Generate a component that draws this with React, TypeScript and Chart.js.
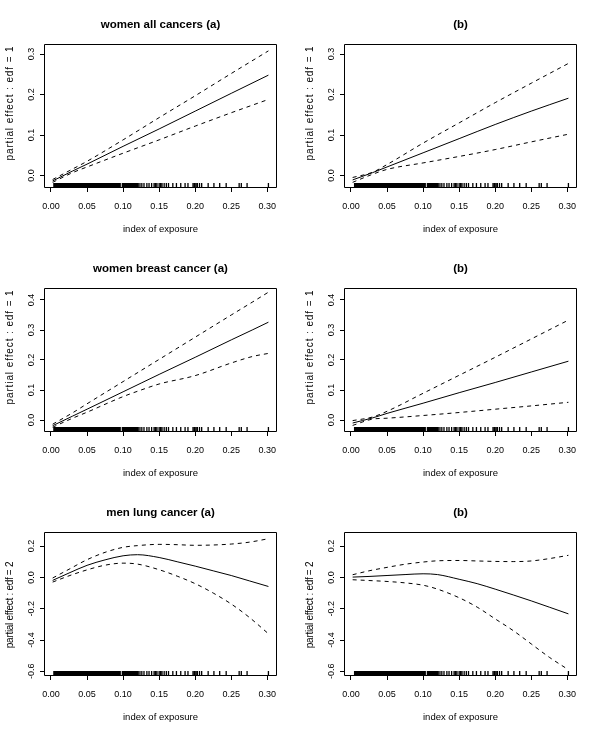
import React, { useEffect, useRef } from "react";
import { Chart, registerables } from "chart.js";

Chart.register(...registerables);

const FONT = "'Liberation Sans', Arial, Helvetica, sans-serif";

// ---- tick labels ----
const xTicks = [0, 0.05, 0.1, 0.15, 0.2, 0.25, 0.3];
const yTicksRow1 = [0, 0.1, 0.2, 0.3];
const yTicksRow2 = [0, 0.1, 0.2, 0.3, 0.4];
const yTicksRow3 = [-0.6, -0.4, -0.2, 0, 0.2];

// ---- panel titles ----
const titles = ["women all cancers (a)", "(b)", "women breast cancer (a)", "(b)", "men lung cancer (a)", "(b)"];
const yTitles = [
  "partial effect : edf = 1",
  "partial effect : edf = 1",
  "partial effect : edf = 1",
  "partial effect : edf = 1",
  "partial effect : edf = 2",
  "partial effect : edf = 2",
];
const xTitle = "index of exposure";

// ---- women all cancers (a) ----
const x1 = [0.0023, 0.03, 0.05, 0.1, 0.15, 0.2, 0.25, 0.3016];
const fit1 = [-0.0135, 0.011, 0.028, 0.072, 0.115, 0.159, 0.203, 0.248];
const up1 = [-0.01, 0.016, 0.035, 0.088, 0.143, 0.197, 0.252, 0.308];
const lo1 = [-0.017, 0.007, 0.021, 0.055, 0.088, 0.122, 0.155, 0.188];

// ---- women all cancers (b) ----
const x2 = [0.0023, 0.03, 0.05, 0.1, 0.15, 0.2, 0.25, 0.3016];
const fit2 = [-0.011, 0.007, 0.021, 0.056, 0.091, 0.126, 0.159, 0.191];
const up2 = [-0.005, 0.008, 0.027, 0.08, 0.13, 0.18, 0.228, 0.277];
const lo2 = [-0.017, 0.003, 0.015, 0.031, 0.047, 0.064, 0.083, 0.102];

// ---- women breast cancer (a) ----
const x3 = [0.0023, 0.03, 0.05, 0.1, 0.125, 0.15, 0.2, 0.25, 0.28, 0.3016];
const fit3 = [-0.019, 0.013, 0.036, 0.094, 0.123, 0.152, 0.209, 0.267, 0.301, 0.326];
const up3 = [-0.014, 0.024, 0.054, 0.128, 0.165, 0.202, 0.276, 0.35, 0.394, 0.426];
const lo3 = [-0.024, 0.006, 0.026, 0.078, 0.1, 0.12, 0.148, 0.19, 0.212, 0.222];

// ---- women breast cancer (b) ----
const x4 = [0.0023, 0.03, 0.05, 0.1, 0.15, 0.2, 0.25, 0.3016];
const fit4 = [-0.01, 0.007, 0.022, 0.056, 0.091, 0.125, 0.16, 0.196];
const up4 = [-0.002, 0.01, 0.029, 0.089, 0.149, 0.209, 0.27, 0.333];
const lo4 = [-0.018, 0.003, 0.006, 0.015, 0.025, 0.036, 0.047, 0.059];

// ---- men lung cancer (a) ----
const x5 = [0.0023, 0.025, 0.05, 0.075, 0.1, 0.12, 0.15, 0.175, 0.2, 0.225, 0.25, 0.275, 0.3016];
const fit5 = [-0.019, 0.028, 0.077, 0.112, 0.138, 0.145, 0.127, 0.1, 0.072, 0.042, 0.012, -0.022, -0.058];
const up5 = [-0.004, 0.052, 0.113, 0.16, 0.192, 0.203, 0.211, 0.209, 0.205, 0.207, 0.213, 0.225, 0.247];
const lo5 = [-0.03, 0.01, 0.048, 0.078, 0.091, 0.085, 0.049, 0.008, -0.04, -0.1, -0.17, -0.255, -0.36];

// ---- men lung cancer (b) ----
const x6 = [0.0023, 0.025, 0.05, 0.075, 0.1, 0.12, 0.15, 0.175, 0.2, 0.225, 0.25, 0.275, 0.3016];
const fit6 = [0.002, 0.006, 0.012, 0.018, 0.023, 0.018, -0.012, -0.04, -0.075, -0.112, -0.15, -0.19, -0.233];
const up6 = [0.017, 0.042, 0.064, 0.084, 0.098, 0.106, 0.108, 0.105, 0.102, 0.101, 0.105, 0.12, 0.141];
const lo6 = [-0.015, -0.02, -0.026, -0.035, -0.05, -0.075, -0.13, -0.19, -0.265, -0.34, -0.425, -0.51, -0.59];

// ---- rug (observed exposure values) ----
const rugDenseA = [
  0.004, 0.005, 0.006, 0.007, 0.008, 0.009, 0.01, 0.011, 0.012, 0.013, 0.014, 0.015, 0.016, 0.017, 0.018, 0.019,
  0.02, 0.021, 0.022, 0.023, 0.024, 0.025, 0.026, 0.027, 0.028, 0.029, 0.03, 0.031, 0.032, 0.033, 0.034, 0.035,
  0.036, 0.037, 0.038, 0.039, 0.04, 0.041, 0.042, 0.043, 0.044, 0.045, 0.046, 0.047, 0.048, 0.049, 0.05, 0.051,
  0.052, 0.053, 0.054, 0.055, 0.056, 0.057, 0.058, 0.059, 0.06, 0.061, 0.062, 0.063, 0.064, 0.065, 0.066, 0.067,
  0.068, 0.069, 0.07, 0.071, 0.072, 0.073, 0.074, 0.075, 0.076, 0.077, 0.078, 0.079, 0.08, 0.081, 0.082, 0.083,
  0.084, 0.085, 0.086, 0.087, 0.088, 0.089, 0.09, 0.091, 0.092, 0.093, 0.094, 0.095, 0.096, 0.099, 0.1, 0.101,
  0.102, 0.103, 0.104, 0.105, 0.106, 0.107, 0.108, 0.109, 0.11, 0.111, 0.112, 0.113, 0.114, 0.115, 0.116, 0.117,
  0.118, 0.119, 0.12, 0.121,
];
const rugDenseB = [
  0.005, 0.006, 0.007, 0.008, 0.009, 0.01, 0.011, 0.012, 0.013, 0.014, 0.015, 0.016, 0.017, 0.018, 0.019,
  0.02, 0.021, 0.022, 0.023, 0.024, 0.025, 0.026, 0.027, 0.028, 0.029, 0.03, 0.031, 0.032, 0.033, 0.034, 0.035,
  0.036, 0.037, 0.038, 0.039, 0.04, 0.041, 0.042, 0.043, 0.044, 0.045, 0.046, 0.047, 0.048, 0.049, 0.05, 0.051,
  0.052, 0.053, 0.054, 0.055, 0.056, 0.057, 0.058, 0.059, 0.06, 0.061, 0.062, 0.063, 0.064, 0.065, 0.066, 0.067,
  0.068, 0.069, 0.07, 0.071, 0.072, 0.073, 0.074, 0.075, 0.076, 0.077, 0.078, 0.079, 0.08, 0.081, 0.082, 0.083,
  0.084, 0.085, 0.086, 0.087, 0.088, 0.089, 0.09, 0.091, 0.092, 0.093, 0.094, 0.095, 0.096, 0.097, 0.098, 0.099,
  0.1, 0.101, 0.102, 0.103, 0.106, 0.107, 0.108, 0.109, 0.11, 0.111, 0.112, 0.113, 0.114, 0.115, 0.116, 0.117,
  0.118, 0.119, 0.12, 0.121,
];
const rugSparse = [
  0.1234, 0.126, 0.129, 0.133, 0.136, 0.1396, 0.143, 0.145, 0.147, 0.15, 0.152, 0.154, 0.157, 0.16, 0.163,
  0.169, 0.174, 0.18, 0.186, 0.19, 0.197, 0.199, 0.201, 0.203, 0.206, 0.209, 0.218, 0.226, 0.234, 0.243,
  0.261, 0.264, 0.272, 0.3016,
];

type Panel = {
  title: string;
  yTitle: string;
  yTicks: number[];
  yMin: number;
  yMax: number;
  x: number[];
  fit: number[];
  up: number[];
  lo: number[];
  rug: number[];
  wide: boolean;
};

const panels: Panel[] = [
  { title: titles[0], yTitle: yTitles[0], yTicks: yTicksRow1, yMin: -0.031, yMax: 0.325, x: x1, fit: fit1, up: up1, lo: lo1, rug: rugDenseA.concat(rugSparse), wide: true },
  { title: titles[1], yTitle: yTitles[1], yTicks: yTicksRow1, yMin: -0.031, yMax: 0.325, x: x2, fit: fit2, up: up2, lo: lo2, rug: rugDenseB.concat(rugSparse), wide: true },
  { title: titles[2], yTitle: yTitles[2], yTicks: yTicksRow2, yMin: -0.04, yMax: 0.44, x: x3, fit: fit3, up: up3, lo: lo3, rug: rugDenseA.concat(rugSparse), wide: true },
  { title: titles[3], yTitle: yTitles[3], yTicks: yTicksRow2, yMin: -0.04, yMax: 0.44, x: x4, fit: fit4, up: up4, lo: lo4, rug: rugDenseB.concat(rugSparse), wide: true },
  { title: titles[4], yTitle: yTitles[4], yTicks: yTicksRow3, yMin: -0.63, yMax: 0.29, x: x5, fit: fit5, up: up5, lo: lo5, rug: rugDenseA.concat(rugSparse), wide: false },
  { title: titles[5], yTitle: yTitles[5], yTicks: yTicksRow3, yMin: -0.63, yMax: 0.29, x: x6, fit: fit6, up: up6, lo: lo6, rug: rugDenseB.concat(rugSparse), wide: false },
];

function PanelChart({ p }: { p: Panel }) {
  const ref = useRef<HTMLCanvasElement | null>(null);
  useEffect(() => {
    const canvas = ref.current;
    if (!canvas) return;
    const rPlugin = {
      id: "rStyle",
      afterDatasetsDraw(chart: any) {
        const ctx = chart.ctx;
        const a = chart.chartArea;
        const xs = chart.scales.x;
        const ys = chart.scales.y;
        ctx.save();
        ctx.setLineDash([]);
        ctx.lineCap = "butt";
        // rug
        ctx.strokeStyle = "#000";
        ctx.lineWidth = 1.3;
        ctx.beginPath();
        for (const v of p.rug) {
          const px = xs.getPixelForValue(v);
          ctx.moveTo(px, a.bottom);
          ctx.lineTo(px, a.bottom - 5);
        }
        ctx.stroke();
        // box
        ctx.lineWidth = 1;
        ctx.beginPath();
        ctx.rect(Math.round(a.left) + 0.5, Math.round(a.top) + 0.5, Math.round(a.right - a.left) - 1, Math.round(a.bottom - a.top) - 1);
        ctx.stroke();
        // y tick labels (rotated, R style)
        ctx.fillStyle = "#000";
        ctx.font = `9px ${FONT}`;
        ctx.textAlign = "center";
        ctx.textBaseline = "middle";
        for (const v of p.yTicks) {
          const py = ys.getPixelForValue(v);
          ctx.save();
          ctx.translate(a.left - 12, py);
          ctx.rotate(-Math.PI / 2);
          ctx.fillText(v.toFixed(1), 0, 0);
          ctx.restore();
        }
        // y axis title
        ctx.save();
        ctx.font = `10px ${FONT}`;
        (ctx as any).letterSpacing = p.wide ? "0.9px" : "-0.3px";
        const cy = (a.top + a.bottom) / 2 + (p.wide ? -13 : 1);
        ctx.translate(10, cy);
        ctx.rotate(-Math.PI / 2);
        ctx.fillText(p.yTitle, 0, 0);
        ctx.restore();
        ctx.restore();
      },
    };
    const line = (ys: number[], dash: number[]) => ({
      data: p.x.map((x, i) => ({ x, y: ys[i] })),
      borderColor: "#000",
      borderWidth: 1,
      borderDash: dash,
      pointRadius: 0,
      fill: false,
      cubicInterpolationMode: "monotone" as const,
    });
    const chart = new Chart(canvas, {
      type: "line",
      data: {
        datasets: [line(p.fit, []), line(p.up, [4, 4]), line(p.lo, [4, 4])],
      },
      options: {
        responsive: false,
        animation: false,
        devicePixelRatio: 1,
        layout: { padding: { left: 0, right: 23, top: 0, bottom: 0 } },
        plugins: {
          legend: { display: false },
          tooltip: { enabled: false },
          title: {
            display: true,
            text: p.title,
            fullSize: false,
            color: "#000",
            font: { family: FONT, size: 11.5, weight: "bold", lineHeight: 1.2 },
            padding: { top: 18, bottom: 12.2 },
          },
        },
        scales: {
          x: {
            type: "linear",
            position: "bottom",
            min: -0.0097,
            max: 0.3135,
            afterBuildTicks: (s: any) => {
              s.ticks = xTicks.map((v) => ({ value: v }));
            },
            afterFit: (s: any) => {
              s.height = 56;
            },
            ticks: {
              color: "#000",
              font: { family: FONT, size: 9 },
              padding: 9.6,
              maxRotation: 0,
              minRotation: 0,
              autoSkip: false,
              callback: (v: any) => Number(v).toFixed(2),
            },
            grid: { display: true, drawOnChartArea: false, drawTicks: true, tickLength: 4, color: "#000", lineWidth: 1 },
            border: { display: false },
            title: {
              display: true,
              text: xTitle,
              color: "#000",
              font: { family: FONT, size: 9.5, lineHeight: 1.2 },
              padding: { top: 0, bottom: 9.3 },
            },
          },
          y: {
            type: "linear",
            position: "left",
            min: p.yMin,
            max: p.yMax,
            afterBuildTicks: (s: any) => {
              s.ticks = p.yTicks.map((v) => ({ value: v }));
            },
            afterFit: (s: any) => {
              s.width = 44;
            },
            ticks: { display: false },
            grid: { display: true, drawOnChartArea: false, drawTicks: true, tickLength: 4, color: "#000", lineWidth: 1 },
            border: { display: false },
            title: { display: false },
          },
        },
      } as any,
      plugins: [rPlugin],
    });
    return () => chart.destroy();
  }, [p]);
  return <canvas ref={ref} width={300} height={244} style={{ display: "block", width: 300, height: 244 }} />;
}

export default function App() {
  return (
    <div
      style={{
        position: "absolute",
        left: 0,
        top: 0,
        width: 600,
        height: 732,
        background: "#fff",
        display: "grid",
        gridTemplateColumns: "300px 300px",
        gridTemplateRows: "244px 244px 244px",
      }}
    >
      {panels.map((p, i) => (
        <PanelChart key={i} p={p} />
      ))}
    </div>
  );
}
